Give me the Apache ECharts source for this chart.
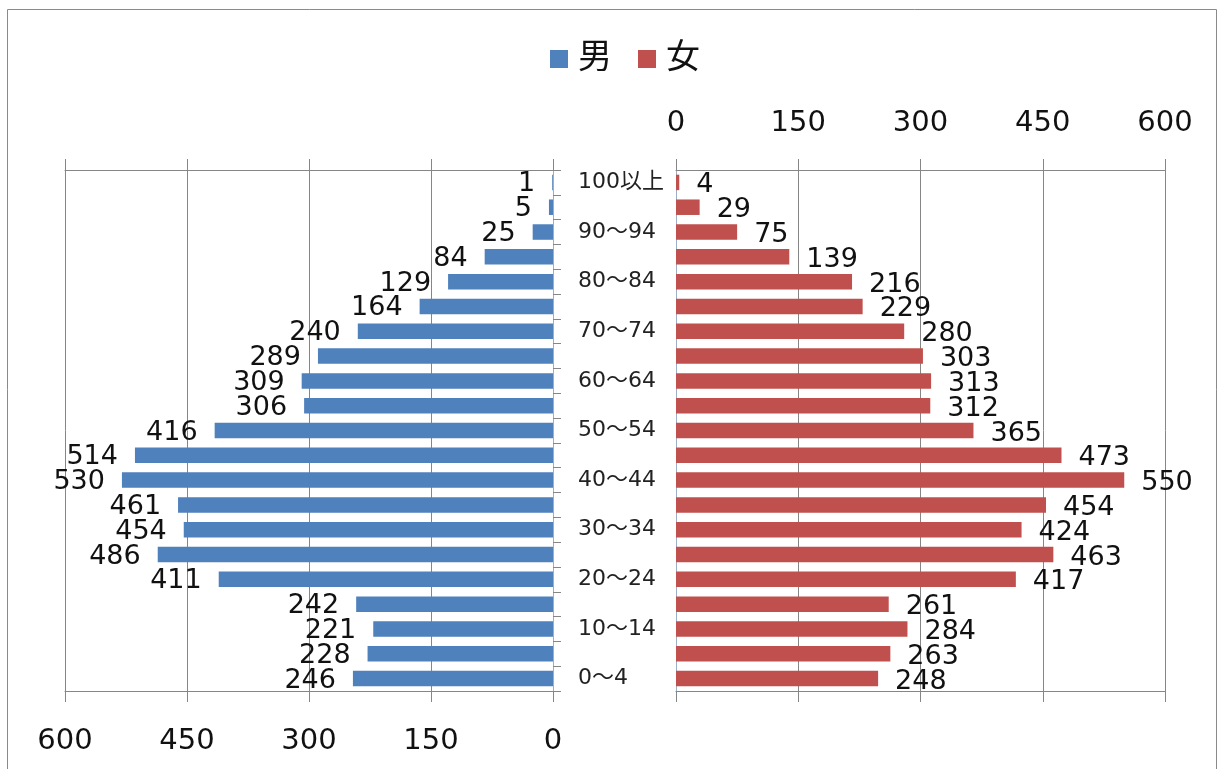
<!DOCTYPE html>
<html><head><meta charset="utf-8">
<script src="https://cdn.jsdelivr.net/npm/echarts@6/dist/echarts.min.js"></script>
<style>html,body{margin:0;padding:0;background:#fff}#c{width:1221px;height:769px}</style>
</head><body><div id="c"></div>
<script>
const categories = ['0～4','5～9','10～14','15～19','20～24','25～29','30～34','35～39','40～44','45～49','50～54','55～59','60～64','65～69','70～74','75～79','80～84','85～89','90～94','95～99','100以上'];
const maleValues = [246,228,221,242,411,486,454,461,530,514,416,306,309,289,240,164,129,84,25,5,1];
const femaleValues = [248,263,284,261,417,463,424,454,550,473,365,312,313,303,280,229,216,139,75,29,4];
const seriesNames = ['男','女'];
const axisMin = 0, axisMax = 600, axisStep = 150;

const FONT = "'DejaVu Sans','Noto Sans CJK JP',sans-serif";
const gray = '#868686';
const chart = echarts.init(document.getElementById('c'));

function valAxis(grid, pos, inverse, showLabel, showSplit){
  return {
    type:'value', gridIndex:grid, position:pos, inverse:inverse,
    min:axisMin, max:axisMax, interval:axisStep,
    axisLine:{show:true, lineStyle:{color:gray, width:1}},
    axisTick:{show:true, length:11, lineStyle:{color:gray}},
    axisLabel:{show:showLabel, fontSize:29, color:'#111', fontFamily:FONT, margin: pos==='top' ? 32 : 36},
    splitLine:{show:showSplit, lineStyle:{color:gray, width:1}}
  };
}

chart.setOption({
  animation:false,
  backgroundColor:'#fff',
  graphic:[{type:'rect', shape:{x:7.5,y:9.5,width:1209,height:775}, style:{fill:'none', stroke:'#8a8a8a', lineWidth:1}, silent:true, z:-10}],
  legend:{
    left:545, top:37, itemWidth:18, itemHeight:18, itemGap:26,
    icon:'rect',
    textStyle:{fontSize:34, color:'#111', fontFamily:FONT, padding:[0,0,0,5]},
    data:seriesNames
  },
  grid:[
    {left:65, width:488, top:170, height:521, containLabel:false},
    {left:676, width:489, top:170, height:521, containLabel:false}
  ],
  xAxis:[
    valAxis(0,'bottom',true,true,true),
    valAxis(0,'top',true,false,false),
    valAxis(1,'top',false,true,true),
    valAxis(1,'bottom',false,false,false)
  ],
  yAxis:[
    {type:'category', gridIndex:0, position:'right', data:categories,
     axisLine:{show:true, lineStyle:{color:'#9bb0c8'}},
     axisTick:{show:true, length:8, interval:0, lineStyle:{color:gray}},
     axisLabel:{show:true, interval:1, margin:25, fontSize:22, color:'#222', fontFamily:FONT, align:'left'}
    },
    {type:'category', gridIndex:1, position:'left', data:categories,
     axisLine:{show:true, lineStyle:{color:'#9bb0c8'}},
     axisTick:{show:false}, axisLabel:{show:false}
    }
  ],
  series:[
    {name:seriesNames[0], type:'bar', xAxisIndex:0, yAxisIndex:0, data:maleValues,
     barWidth:15.5, itemStyle:{color:'#4f81bd'},
     label:{show:true, position:'left', distance:17, offset:[0,2], fontSize:27, color:'#111', fontFamily:FONT}
    },
    {name:seriesNames[1], type:'bar', xAxisIndex:2, yAxisIndex:1, data:femaleValues,
     barWidth:15.5, itemStyle:{color:'#c0504d'},
     label:{show:true, position:'right', distance:17, offset:[0,3], fontSize:27, color:'#111', fontFamily:FONT}
    }
  ]
});
</script></body></html>
